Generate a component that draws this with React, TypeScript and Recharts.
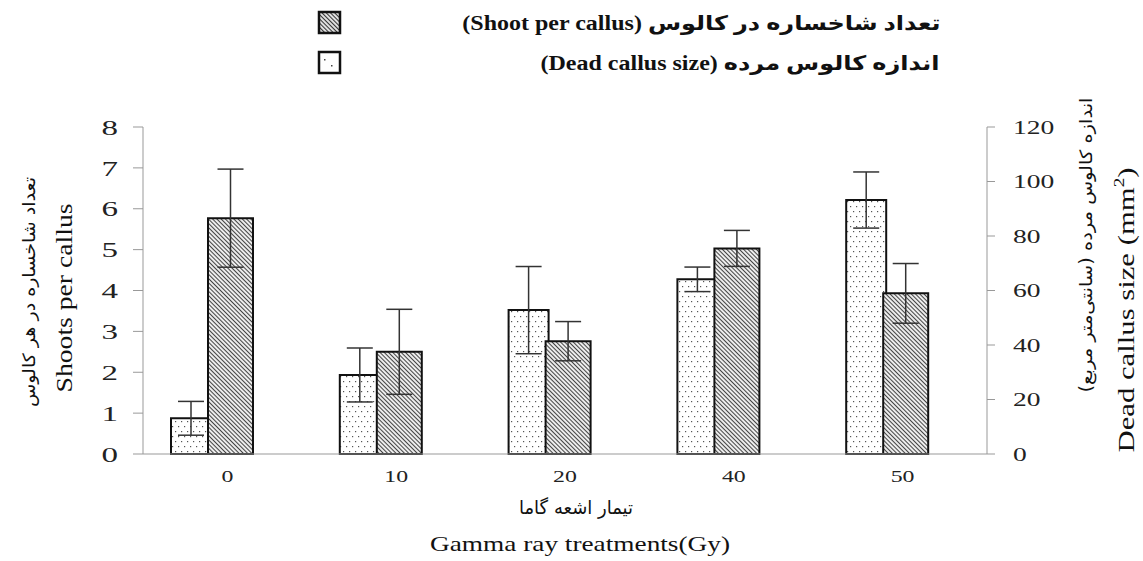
import React from 'react';
import { BarChart, Bar, XAxis, YAxis, ErrorBar, Legend, Label } from 'recharts';

const categories = ['0', '10', '20', '40', '50'];
const deadCallusSize = [13.1, 29.0, 52.8, 64.1, 93.2];
const deadCallusErr = [6.2, 9.9, 16.0, 4.5, 10.3];
const shootPerCallus = [5.77, 2.5, 2.76, 5.03, 3.93];
const shootPerCallusErr = [1.2, 1.04, 0.48, 0.44, 0.73];
const leftTicks = [0, 1, 2, 3, 4, 5, 6, 7, 8];
const rightTicks = [0, 20, 40, 60, 80, 100, 120];

const legendShootFa = 'تعداد شاخساره در کالوس';
const legendShootEn = '(Shoot per callus)';
const legendDeadFa = 'اندازه کالوس مرده';
const legendDeadEn = '(Dead callus size)';
const xTitleFa = 'تیمار اشعه گاما';
const xTitleEn = 'Gamma ray treatments(Gy)';
const leftTitleFa = 'تعداد شاخساره در هر کالوس';
const leftTitleEn = 'Shoots per callus';
const rightTitleFa = 'اندازه کالوس مرده (سانتی‌متر مربع)';
const rightTitleEn = 'Dead callus size (mm';

const data = categories.map((c, i) => ({
  treatment: c,
  dead: deadCallusSize[i],
  deadErr: deadCallusErr[i],
  shoot: shootPerCallus[i],
  shootErr: shootPerCallusErr[i],
  pad: 0,
}));

const SERIF = "'Liberation Serif', 'Times New Roman', serif";
const PERSIAN = "'DejaVu Sans', sans-serif";
const MIXED = "'Liberation Serif', 'DejaVu Sans', serif";

const LeftTick = (props: any) => {
  const { x, y, payload } = props;
  return (
    <g transform={`translate(${x},${y}) scale(1.5,1)`}>
      <text x={0} y={0} dy="0.35em" textAnchor="end" fontFamily={SERIF} fontSize={22} fill="#222">
        {payload.value}
      </text>
    </g>
  );
};

const RightTick = (props: any) => {
  const { x, y, payload } = props;
  return (
    <g transform={`translate(${x},${y}) scale(1.45,1)`}>
      <text x={0} y={0} dy="0.35em" textAnchor="start" fontFamily={SERIF} fontSize={19} fill="#222">
        {payload.value}
      </text>
    </g>
  );
};

const BottomTick = (props: any) => {
  const { x, y, payload } = props;
  return (
    <g transform={`translate(${x},${y + 20}) scale(1.4,1)`}>
      <text x={0} y={0} textAnchor="middle" fontFamily={SERIF} fontSize={17} fill="#222">
        {payload.value}
      </text>
    </g>
  );
};

const XTitles = () => (
  <g>
    <text x={576} y={514} textAnchor="middle" fontFamily={PERSIAN} fontSize={19} textLength={114} lengthAdjust="spacingAndGlyphs" direction="rtl" fill="#111">
      {xTitleFa}
    </text>
    <text x={580} y={551} textAnchor="middle" fontFamily={SERIF} fontSize={21} textLength={300} lengthAdjust="spacingAndGlyphs" fill="#111">
      {xTitleEn}
    </text>
  </g>
);

const LeftTitles = () => (
  <g>
    <text x={35} y={292} transform="rotate(-90 35 292)" textAnchor="middle" fontFamily={PERSIAN} fontSize={17} textLength={230} lengthAdjust="spacingAndGlyphs" direction="rtl" fill="#111">
      {leftTitleFa}
    </text>
    <text x={72} y={298} transform="rotate(-90 72 298)" textAnchor="middle" fontFamily={SERIF} fontSize={24} textLength={189} lengthAdjust="spacingAndGlyphs" fill="#111">
      {leftTitleEn}
    </text>
  </g>
);

const RightTitles = () => (
  <g>
    <text x={1092} y={245} transform="rotate(-90 1092 245)" textAnchor="middle" fontFamily={PERSIAN} fontSize={17} textLength={295} lengthAdjust="spacingAndGlyphs" direction="rtl" fill="#111">
      {rightTitleFa}
    </text>
    <text x={1134} y={310} transform="rotate(-90 1134 310)" textAnchor="middle" fontFamily={SERIF} fontSize={24} textLength={285} lengthAdjust="spacingAndGlyphs" fill="#111">
      {rightTitleEn}
      <tspan dy={-10} fontSize={15}>2</tspan>
      <tspan dy={10}>)</tspan>
    </text>
  </g>
);

const HatchIcon = () => (
  <svg width={26} height={26} style={{ position: 'absolute', left: 317, top: 10 }}>
    <defs>
      <pattern id="hatchIcon" patternUnits="userSpaceOnUse" width="3" height="3" patternTransform="rotate(-45)">
        <rect width="3" height="3" fill="#fff" />
        <line x1="1.5" y1="0" x2="1.5" y2="3" stroke="#333" strokeWidth="1.3" />
      </pattern>
    </defs>
    <rect x={2} y={2} width={21} height={21} fill="url(#hatchIcon)" stroke="#111" strokeWidth={2.5} />
  </svg>
);

const DotIcon = () => (
  <svg width={26} height={26} style={{ position: 'absolute', left: 317, top: 50 }}>
    <rect x={2} y={2} width={21} height={21} fill="#fff" stroke="#111" strokeWidth={2.5} />
    <rect x={7} y={9} width={1.5} height={1.5} fill="#444" />
    <rect x={14} y={15} width={1.5} height={1.5} fill="#444" />
  </svg>
);

const legendTextStyle: React.CSSProperties = {
  position: 'absolute',
  right: 1143 - 940,
  fontFamily: MIXED,
  fontWeight: 'bold',
  fontSize: 20,
  lineHeight: '24px',
  whiteSpace: 'nowrap',
  color: '#111',
  transform: 'scaleX(1.2)',
  transformOrigin: 'right center',
};

const LegendRow = ({ fa, en, top }: { fa: string; en: string; top: number }) => (
  <div dir="rtl" style={{ ...legendTextStyle, top }}>
    {fa}{' '}
    <span dir="ltr" style={{ unicodeBidi: 'isolate' }}>{en}</span>
  </div>
);

const LegendContent = () => (
  <div style={{ position: 'relative', width: 1143, height: 90 }}>
    <HatchIcon />
    <LegendRow fa={legendShootFa} en={legendShootEn} top={11} />
    <DotIcon />
    <LegendRow fa={legendDeadFa} en={legendDeadEn} top={51} />
  </div>
);

export default function App() {
  return (
    <div style={{ position: 'absolute', left: 0, top: 0, width: 1143, height: 561, background: '#fff' }}>
      <BarChart
        width={1143}
        height={561}
        data={data}
        margin={{ top: 127, right: 0, bottom: 0, left: 0 }}
        barGap={-3}
      >
        <defs>
          <pattern id="dots" patternUnits="userSpaceOnUse" width="6" height="10">
            <rect width="6" height="10" fill="#fff" />
            <rect x="1" y="1" width="1.2" height="1.2" fill="#555" />
            <rect x="4" y="6" width="1.2" height="1.2" fill="#555" />
          </pattern>
          <pattern id="hatch" patternUnits="userSpaceOnUse" width="3" height="3" patternTransform="rotate(-45)">
            <rect width="3" height="3" fill="#fff" />
            <line x1="1.5" y1="0" x2="1.5" y2="3" stroke="#444" strokeWidth="1.2" />
          </pattern>
        </defs>
        <XAxis
          dataKey="treatment"
          height={107}
          tickLine={false}
          axisLine={{ stroke: '#999' }}
          tick={<BottomTick />}
          interval={0}
        >
          <Label content={() => <XTitles />} />
        </XAxis>
        <YAxis
          yAxisId="left"
          orientation="left"
          width={143}
          domain={[0, 8]}
          ticks={leftTicks}
          interval={0}
          tickSize={10}
          tickMargin={15}
          axisLine={{ stroke: '#999' }}
          tickLine={{ stroke: '#999' }}
          tick={<LeftTick />}
        >
          <Label content={() => <LeftTitles />} />
        </YAxis>
        <YAxis
          yAxisId="right"
          orientation="right"
          width={156}
          domain={[0, 120]}
          ticks={rightTicks}
          interval={0}
          tickSize={8}
          tickMargin={18}
          axisLine={{ stroke: '#999' }}
          tickLine={{ stroke: '#999' }}
          tick={<RightTick />}
        >
          <Label content={() => <RightTitles />} />
        </YAxis>
        <Legend
          layout="horizontal"
          verticalAlign="middle"
          align="center"
          wrapperStyle={{ top: 0, left: 0, width: 1143, height: 90 }}
          content={() => <LegendContent />}
        />
        <Bar
          yAxisId="right"
          dataKey="dead"
          name="Dead callus size"
          barSize={40}
          fill="url(#dots)"
          stroke="#111"
          strokeWidth={2}
          isAnimationActive={false}
        >
          <ErrorBar dataKey="deadErr" width={13} stroke="#333" strokeWidth={1.5} />
        </Bar>
        <Bar
          yAxisId="left"
          dataKey="shoot"
          name="Shoot per callus"
          barSize={45}
          fill="url(#hatch)"
          stroke="#111"
          strokeWidth={2}
          isAnimationActive={false}
        >
          <ErrorBar dataKey="shootErr" width={13} stroke="#333" strokeWidth={1.5} />
        </Bar>
        <Bar
          yAxisId="left"
          dataKey="pad"
          barSize={33}
          fill="none"
          legendType="none"
          isAnimationActive={false}
        />
      </BarChart>
    </div>
  );
}
